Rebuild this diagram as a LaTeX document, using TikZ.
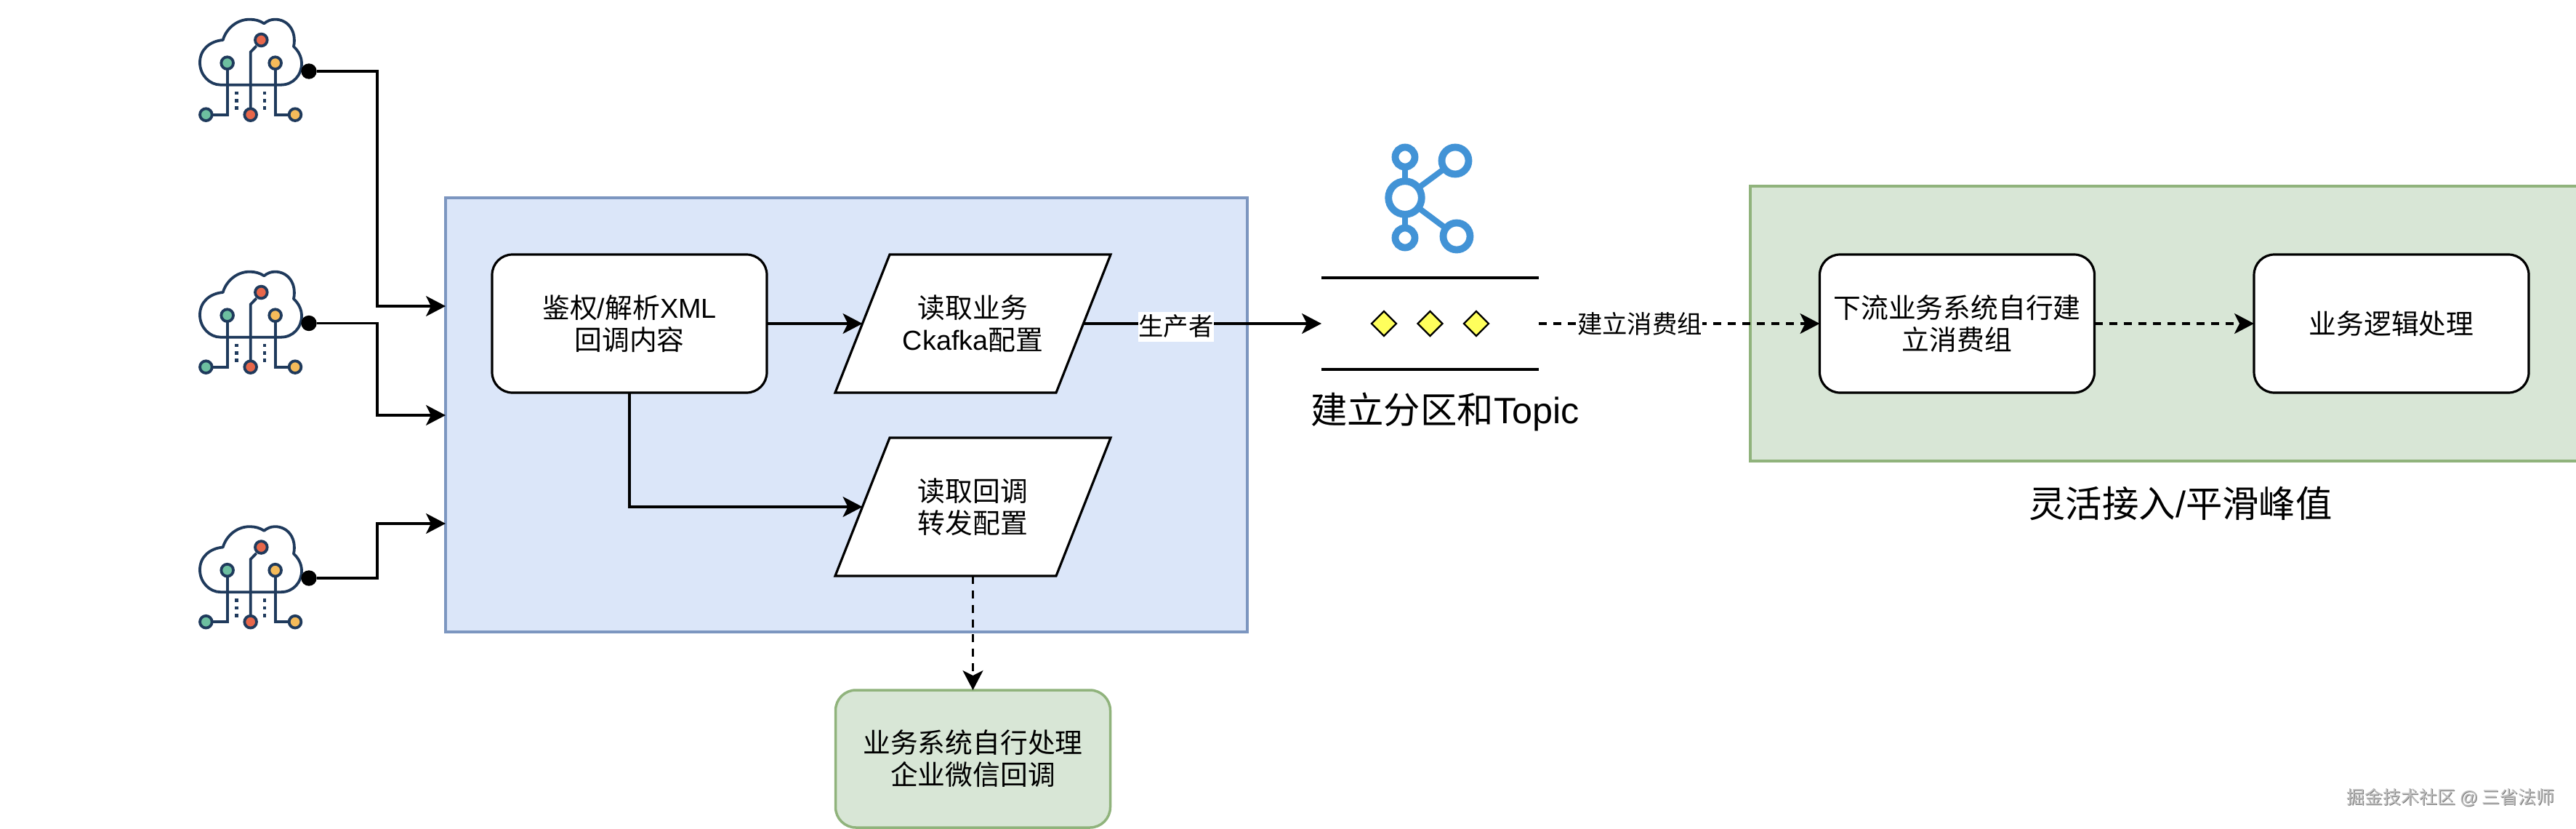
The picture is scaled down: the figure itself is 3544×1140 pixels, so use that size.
\documentclass[tikz,border=0pt]{standalone}
\usepackage{fontspec}
\setmainfont{Liberation Sans}
\newfontfamily\cj{Noto Sans CJK SC}
\usetikzlibrary{arrows.meta,shapes.geometric}
\definecolor{bluefill}{HTML}{DBE6F9}
\definecolor{blueline}{HTML}{7C96C0}
\definecolor{greenfill}{HTML}{D8E6D6}
\definecolor{greenline}{HTML}{90B37C}
\definecolor{kafkablue}{HTML}{4293D6}
\definecolor{icondark}{HTML}{1F3A5C}
\definecolor{icongreen}{HTML}{6DBFA0}
\definecolor{iconred}{HTML}{E8674A}
\definecolor{iconyellow}{HTML}{F5BB5A}
\definecolor{diafill}{HTML}{FFFF5C}
\tikzset{
  base/.style={inner sep=0pt,outer sep=0pt,align=center,font=\cj\fontsize{18.9}{22}\selectfont},
  bluepanel/.style={base,draw=blueline,fill=bluefill,line width=1.75pt,minimum width=551.5pt,minimum height=298.5pt},
  greenpanel/.style={base,draw=greenline,fill=greenfill,line width=1.75pt,minimum width=571pt,minimum height=189pt},
  roundbox/.style={base,draw=black,fill=white,line width=1.6pt,rounded corners=14pt,minimum width=189pt,minimum height=95pt},
  greenbox/.style={base,draw=greenline,fill=greenfill,line width=1.75pt,rounded corners=14pt,minimum width=189pt,minimum height=94.5pt},
  parabox/.style={base,minimum width=152pt,minimum height=95pt},
  paraline/.style={draw=black,fill=white,line width=1.6pt,line join=miter},
  flow/.style={draw=black,line width=1.6pt,-{Stealth[length=13.5pt,width=14pt,inset=3.5pt]}},
  dashflow/.style={flow,dash pattern=on 5.5pt off 4.5pt},
  startdot/.style={circle,fill=black,inner sep=0pt,outer sep=0pt,minimum size=10.7pt},
  conlabel/.style={base,fill=white,font=\cj\fontsize{17.2}{20}\selectfont,minimum width=51.5pt,minimum height=20.5pt},
  bigtitle/.style={base,font=\cj\fontsize{25.2}{30}\selectfont},
  yellowdia/.style={diamond,draw=black,fill=diafill,line width=1.2pt,inner sep=0pt,outer sep=0pt,minimum width=17pt,minimum height=17pt},
  kring/.style={draw=kafkablue,line width=4.9pt,fill=none},
  kstem/.style={draw=kafkablue,line width=4pt},
  iconline/.style={draw=icondark,line width=1.9pt},
  iconring/.style={draw=icondark,line width=1.9pt}
}
\newcommand{\cloudicon}[1]{%
  \begin{scope}[shift={(240,#1)},x=0.16667pt,y=-0.16667pt]
    \path[iconline,fill=white,line join=round] (440,350) .. controls (490,350) and (525,310) .. (525,262)
      .. controls (525,235) and (512,210) .. (492,192)
      .. controls (505,130) and (470,80) .. (415,80)
      .. controls (398,80) and (383,86) .. (370,97)
      .. controls (352,85) and (333,80) .. (310,80)
      .. controls (260,80) and (215,115) .. (200,165)
      .. controls (145,170) and (105,205) .. (105,258)
      .. controls (105,310) and (145,350) .. (190,350) -- cycle;
    \path[iconline] (218,285) -- (218,473) -- (155,473);
    \path[iconline] (416,285) -- (416,473) -- (475,473);
    \path[iconline] (314,450) -- (314,215) -- (338,190);
    \foreach \yy in {384,415,446}{
      \fill[icondark] (249,\yy-7) rectangle (263,\yy+7);
      \fill[icondark] (365,\yy-7) rectangle (379,\yy+7);
    }
    \path[iconring,fill=icongreen] (130,473) circle[radius=25];
    \path[iconring,fill=iconred] (314,473) circle[radius=25];
    \path[iconring,fill=iconyellow] (498,473) circle[radius=25];
    \path[iconring,fill=icongreen] (218,260) circle[radius=25];
    \path[iconring,fill=iconyellow] (416,260) circle[radius=25];
    \path[iconring,fill=iconred] (358,165) circle[radius=25];
  \end{scope}}
\newcommand{\paral}[2]{%
  \path[paraline] (#1-114.5,#2-95) -- (#1+189.5,#2-95) -- (#1+114.5,#2+95) -- (#1-189.5,#2+95) -- cycle;}
\begin{document}
\begin{tikzpicture}[x=0.5pt,y=-0.5pt]
\clip (0,0) rectangle (3544,1140);
\fill[white] (0,0) rectangle (3544,1140);

% panels
\node[bluepanel] (blue) at (1164.5,570.5) {};
\node[greenpanel] (green) at (2979,445) {};

% cloud icons
\cloudicon{0}
\cloudicon{347}
\cloudicon{697.5}
\node[startdot] (d1) at (425,98) {};
\node[startdot] (d2) at (425,444.5) {};
\node[startdot] (d3) at (425,795) {};

% process boxes
\node[roundbox] (auth) at (866,445) {鉴权{\fontspec{Liberation Sans}/}解析{\fontspec{Liberation Sans}XML}\\回调内容};
\paral{1338.5}{445}
\node[parabox] (p1) at (1338.5,445) {读取业务\\{\fontspec{Liberation Sans}Ckafka}配置};
\paral{1338.5}{697}
\node[parabox] (p2) at (1338.5,697) {读取回调\\转发配置};
\node[greenbox] (self) at (1338.5,1043.5) {业务系统自行处理\\企业微信回调};
\node[roundbox] (down) at (2692.5,445) {下流业务系统自行建\\立消费组};
\node[roundbox] (logic) at (3290,445) {业务逻辑处理};

% queue
\node[base,minimum width=149.5pt,minimum height=63pt] (queue) at (1967.5,445) {};
\draw[line width=1.6pt] (queue.north west) -- (queue.north east);
\draw[line width=1.6pt] (queue.south west) -- (queue.south east);
\node[yellowdia] (q1) at (1904,445) {};
\node[yellowdia] (q2) at (1967.5,445) {};
\node[yellowdia] (q3) at (2031,445) {};

% kafka icon
\coordinate (kc) at (1933,272);
\coordinate (ktl) at (1933,216);
\coordinate (kbl) at (1933,327);
\coordinate (ktr) at (2002,221);
\coordinate (kbr) at (2004,325);
\draw[kstem] (kc) -- (ktl);
\draw[kstem] (kc) -- (kbl);
\draw[kstem] (kc) -- (ktr);
\draw[kstem] (kc) -- (kbr);
\draw[kring,fill=white] (kc) circle[radius=22.8];
\draw[kring,fill=white] (ktl) circle[radius=13.5];
\draw[kring,fill=white] (kbl) circle[radius=13.5];
\draw[kring,fill=white] (ktr) circle[radius=18.5];
\draw[kring,fill=white] (kbr) circle[radius=18.5];

% titles
\node[bigtitle] (t1) at (1988,566) {建立分区和{\fontspec{Liberation Sans}Topic}};
\node[bigtitle] (t2) at (3000,692) {灵活接入{\fontspec{Liberation Sans}/}平滑峰值};

% connectors
\coordinate (in1) at (blue.west |- 0,421);
\coordinate (in2) at (blue.west |- 0,571);
\coordinate (in3) at (blue.west |- 0,720);
\coordinate (v1) at (519,421);
\coordinate (v2) at (519,571);
\coordinate (v3) at (519,720);
\path[flow] (d1.east) -| (v1) -- (in1);
\path[flow] (d2.east) -| (v2) -- (in2);
\path[flow] (d3.east) -| (v3) -- (in3);
\path[flow] (auth.east) -- (p1.west);
\path[flow] (auth.south) |- (p2.west);
\path[flow] (p1.east) -- (queue.west);
\path[dashflow] (p2.south) -- (self.north);
\path[dashflow] (queue.east) -- (down.west);
\path[dashflow] (down.east) -- (logic.west);

% connector labels
\node[conlabel] (lp) at (1618,449) {生产者};
\node[conlabel,minimum width=86pt] (lc) at (2256,445) {建立消费组};

% watermark
\node[base,text=black!52,font=\cj\fontsize{12.5}{15}\selectfont] (wm0) at (3372.5,1098) {掘金技术社区 {\fontspec{Liberation Sans}@} 三省法师};
\node[base,text=black!25,font=\cj\fontsize{12.5}{15}\selectfont] (wm) at (3371.5,1097) {掘金技术社区 {\fontspec{Liberation Sans}@} 三省法师};
\end{tikzpicture}
\end{document}
